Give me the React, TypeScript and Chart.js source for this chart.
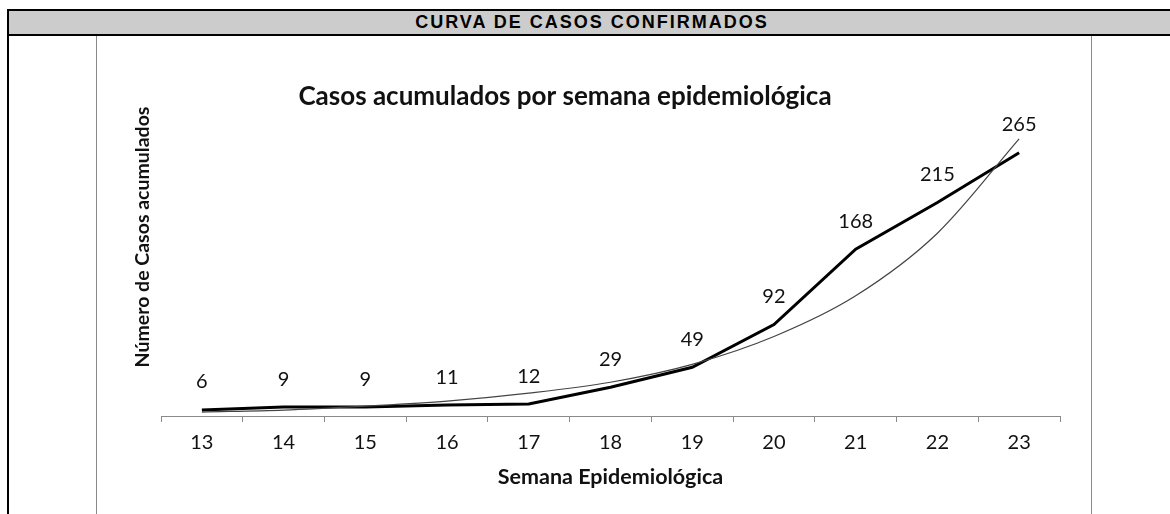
import React, { useEffect, useRef } from "react";
import { Chart, registerables } from "chart.js";

Chart.register(...registerables);

const weeks = ["13", "14", "15", "16", "17", "18", "19", "20", "21", "22", "23"];
const cumulativeCases = [6, 9, 9, 11, 12, 29, 49, 92, 168, 215, 265];
const trendValues = [4, 6, 10, 15, 23, 34, 52, 80, 121, 184, 279];

const headerText = "CURVA DE CASOS CONFIRMADOS";
const chartTitle = "Casos acumulados por semana epidemiológica";
const yTitle = "Número de Casos acumulados";
const xTitle = "Semana Epidemiológica";

const FONT = "Lato, 'Open Sans', 'DejaVu Sans', sans-serif";

export default function App() {
  const canvasRef = useRef<HTMLCanvasElement | null>(null);

  useEffect(() => {
    const canvas = canvasRef.current;
    if (!canvas) return;

    const textPlugin = {
      id: "customText",
      afterDatasetsDraw(chart: any) {
        const ctx = chart.ctx;
        ctx.save();
        const meta = chart.getDatasetMeta(0);
        ctx.fillStyle = "#111";
        ctx.font = `20px ${FONT}`;
        ctx.textAlign = "center";
        ctx.textBaseline = "middle";
        meta.data.forEach((pt: any, i: number) => {
          ctx.fillText(String(cumulativeCases[i]), pt.x, pt.y - 28);
        });
        ctx.font = `bold 26px ${FONT}`;
        ctx.fillText(chartTitle, 468, 61);
        ctx.translate(46, 201);
        ctx.rotate(-Math.PI / 2);
        ctx.font = `bold 19.5px ${FONT}`;
        ctx.fillText(yTitle, 0, 0);
        ctx.restore();
      },
    };

    const chart = new Chart(canvas, {
      type: "line",
      data: {
        labels: weeks,
        datasets: [
          {
            label: "Casos acumulados",
            data: cumulativeCases,
            borderColor: "#000",
            borderWidth: 3,
            pointRadius: 0,
            tension: 0,
            fill: false,
            order: 2,
          },
          {
            label: "Tendencia",
            data: trendValues,
            borderColor: "#444",
            borderWidth: 1.2,
            pointRadius: 0,
            cubicInterpolationMode: "monotone",
            fill: false,
            order: 1,
          },
        ],
      },
      options: {
        responsive: false,
        animation: false,
        layout: { padding: { left: 64, right: 30, top: 82, bottom: 0 } },
        plugins: {
          legend: { display: false },
          tooltip: { enabled: false },
          title: { display: false },
        },
        scales: {
          x: {
            offset: true,
            afterFit: (scale: any) => {
              scale.height = 98;
            },
            grid: {
              offset: true,
              drawOnChartArea: false,
              drawTicks: true,
              tickLength: 6,
              color: "#8a8a8a",
            },
            border: { color: "#8a8a8a", width: 1 },
            ticks: {
              color: "#111",
              font: { family: FONT, size: 20 },
              padding: 9,
            },
            title: {
              display: true,
              text: xTitle,
              color: "#111",
              font: { family: FONT, size: 21.5, weight: "bold" },
              padding: { top: 0, bottom: 24 },
            },
          },
          y: {
            display: false,
            min: 0,
            max: 300,
          },
        },
      },
      plugins: [textPlugin],
    });

    return () => chart.destroy();
  }, []);

  return (
    <div
      style={{
        position: "absolute",
        left: 0,
        top: 0,
        width: 1170,
        height: 514,
        overflow: "hidden",
        background: "#fff",
      }}
    >
      <div
        style={{
          position: "absolute",
          left: 7,
          top: 9,
          width: 1170,
          height: 23,
          background: "#cccccc",
          borderTop: "2px solid #000",
          borderBottom: "2px solid #000",
          borderLeft: "2px solid #000",
          fontFamily: "'Liberation Sans', Arial, sans-serif",
          fontWeight: "bold",
          fontSize: 18,
          letterSpacing: 2,
          lineHeight: "23px",
          color: "#000",
        }}
      >
        <div style={{ position: "absolute", left: 0, width: 1166, textAlign: "center" }}>
          {headerText}
        </div>
      </div>
      <div style={{ position: "absolute", left: 7, top: 36, width: 2, height: 478, background: "#000" }} />
      <div style={{ position: "absolute", left: 96, top: 36, width: 1, height: 478, background: "#8a8a8a" }} />
      <div style={{ position: "absolute", left: 1091, top: 36, width: 1, height: 478, background: "#8a8a8a" }} />
      <canvas
        ref={canvasRef}
        width={993}
        height={478}
        style={{ position: "absolute", left: 97, top: 36, width: 993, height: 478 }}
      />
    </div>
  );
}
